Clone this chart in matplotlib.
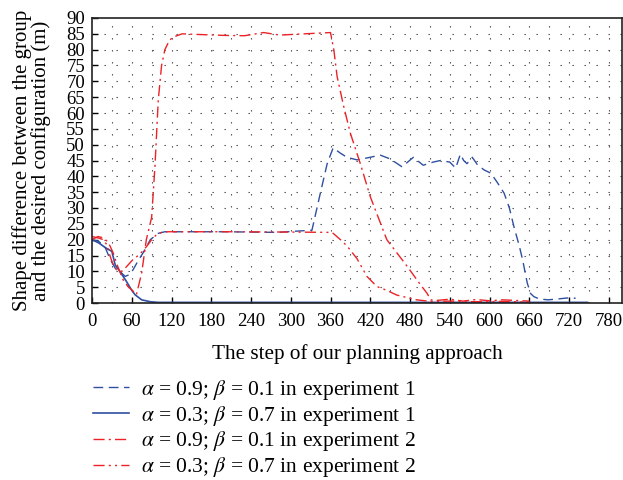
import matplotlib
matplotlib.use("Agg")
import matplotlib.pyplot as plt

plt.rcParams['font.family'] = ['Liberation Serif', 'DejaVu Serif']
plt.rcParams['mathtext.fontset'] = 'stix'

# experiment 1, alpha=0.9, beta=0.1 (blue dashed)
e1a_x = [0, 10, 20, 27, 35, 42, 50, 57, 62, 70, 77, 88, 100, 110, 120, 200, 280, 332, 345, 355, 364, 375, 385, 400, 415,
         435, 450, 468, 485, 500, 515, 526, 540, 549, 556, 561, 566, 574, 582, 592, 602, 612, 622, 630, 637, 645, 650,
         657, 662, 667, 675, 688, 700, 718, 730]
e1a_y = [20, 19.5, 17.5, 14, 11, 10, 8.4, 9, 10.5, 13.5, 15.8, 20, 22, 22.5, 22.5, 22.5, 22.3, 23, 35, 44, 49, 47.3,
         46, 45.2, 45.8, 46.7, 45.5, 43, 46, 43.5, 44.5, 45, 44.5, 42.6, 47, 45, 44, 46, 43.6, 42, 41, 38, 34.7, 30, 24,
         18, 13.6, 6.3, 3, 2, 1.3, 1, 1.2, 1.6, 1.5]

# experiment 1, alpha=0.3, beta=0.7 (blue solid)
e1b_x = [0, 10, 20, 30, 35, 42, 52, 60, 65, 75, 88, 100, 200, 300, 400, 500, 600, 700, 748]
e1b_y = [20, 19, 17.5, 16.3, 12, 10, 6.8, 4, 2.6, 1, 0.4, 0.2, 0.2, 0.2, 0.2, 0.2, 0.2, 0.2, 0.2]

# experiment 2, alpha=0.9, beta=0.1 (red dash-dot)
e2a_x = [0, 9, 18, 25, 32, 38, 47, 55, 60, 67, 75, 82, 90, 95, 100, 105, 110, 117, 123, 136, 160, 200, 230, 259, 284,
         320, 350, 360, 365, 370, 380, 390, 405, 420, 445, 476, 495, 506, 511, 520, 540, 560, 580, 600, 620, 640, 660]
e2a_y = [20, 21, 20.5, 19, 15.8, 12, 7.3, 5, 4.2, 2.6, 9.5, 20, 27, 43, 64, 75, 80, 83, 84, 85, 84.8, 84.5, 84.4, 85.4,
         84.6, 85, 85.3, 85.4, 80, 71.5, 62, 53.6, 44, 33.6, 20, 11.5, 6, 3, 1, 0.8, 1.2, 0.6, 1.1, 0.7, 1.0, 0.8, 0.6]

# experiment 2, alpha=0.3, beta=0.7 (red dash-dot-dot)
e2b_x = [0, 10, 17, 22, 27, 32, 37, 45, 50, 57, 63, 70, 77, 83, 90, 97, 105, 115, 200, 300, 360, 364, 375, 385, 400,
         415, 430, 445, 460, 476, 490, 511, 540, 580, 620, 660]
e2b_y = [21, 20.5, 20, 18.5, 15, 12, 10.5, 10, 11, 12.6, 14, 15, 16.5, 18, 20, 21.5, 22.3, 22.5, 22.5, 22.4, 22.3, 22,
         20, 18, 14, 8.4, 5.2, 4, 2.5, 1.7, 1, 0.5, 0.6, 0.4, 0.5, 0.3]

labels = [r'$\alpha$ = 0.9; $\beta$ = 0.1 in experiment 1',
          r'$\alpha$ = 0.3; $\beta$ = 0.7 in experiment 1',
          r'$\alpha$ = 0.9; $\beta$ = 0.1 in experiment 2',
          r'$\alpha$ = 0.3; $\beta$ = 0.7 in experiment 2']

x_ticks = list(range(0, 781, 60))
y_ticks = list(range(0, 91, 5))

blue = '#2f4fa2'
red = '#ec2227'

fig = plt.figure(figsize=(6.23, 4.8), dpi=100)
ax = fig.add_axes([92/623, 1-303/480, (622-92)/623, (303-18)/480])

# dotted grid
for yv in range(5, 90, 5):
    ax.axhline(yv, color='#444444', lw=0.8, linestyle=(0, (1.2, 9.6)), zorder=0)
for xv in range(30, 800, 30):
    ax.axvline(xv, color='#444444', lw=0.8, linestyle=(0, (1.2, 9.6)), zorder=0)

l1, = ax.plot(e1a_x, e1a_y, color=blue, lw=1.0, linestyle=(0, (7, 4)))
l2, = ax.plot(e1b_x, e1b_y, color=blue, lw=1.2, linestyle='-')
l3, = ax.plot(e2a_x, e2a_y, color=red, lw=1.0, linestyle=(0, (8, 3, 1.5, 3)))
l4, = ax.plot(e2b_x, e2b_y, color=red, lw=1.0, linestyle=(0, (8, 3, 1.5, 3, 1.5, 3)))

ax.set_xlim(0, 800)
ax.set_ylim(0, 90)
ax.set_xticks(x_ticks)
ax.set_yticks(y_ticks)
ax.tick_params(direction='in', length=4, width=1, labelsize=13.5, top=False, right=False)
ax.tick_params(axis='x', pad=7)
ax.tick_params(axis='y', pad=5)
for s in ax.spines.values():
    s.set_linewidth(1.2)
    s.set_color('#222222')

ax.set_xlabel('The step of our planning approach', fontsize=15.2, labelpad=10)
ax.set_ylabel('Shape difference between the group\nand the desired configuration (m)', fontsize=15, labelpad=11,
              linespacing=0.92)

fig.legend([l1, l2, l3, l4], labels, loc='upper left', bbox_to_anchor=(93/623, 1-378/480), frameon=False,
           fontsize=15.5, handlelength=1.65, handletextpad=0.6, labelspacing=0.08, borderpad=0, borderaxespad=0)

fig.savefig('out.png', dpi=100)
